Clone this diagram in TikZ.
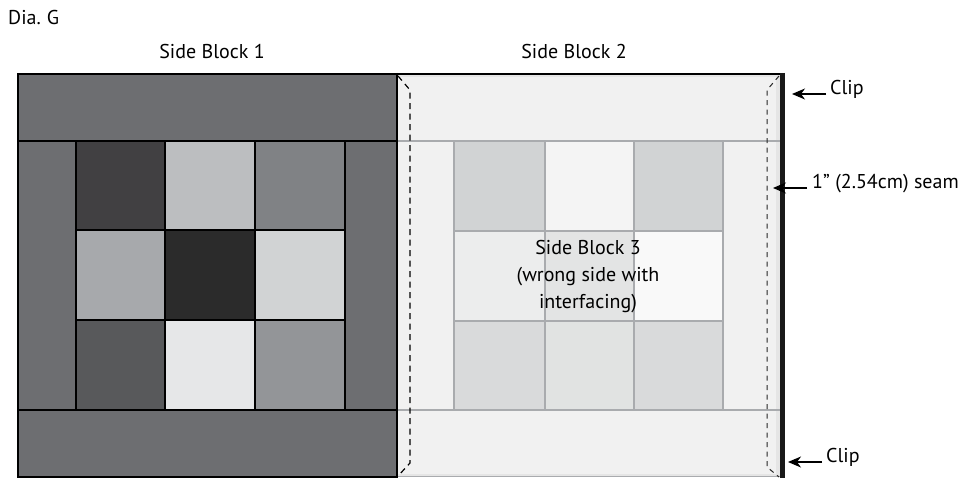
\documentclass[tikz,border=0pt]{standalone}
\usepackage{fontspec}
\setmainfont{PT Sans}
\usetikzlibrary{arrows.meta}
\definecolor{bandD}{HTML}{6D6E71}
\definecolor{bandL}{HTML}{F1F1F1}
\definecolor{gridL}{HTML}{A9ABAE}
\tikzset{
  darkcell/.style={draw=black,line width=1.3pt},
  lightcell/.style={draw=gridL,line width=1.2pt},
  lab/.style={inner sep=0pt,font=\fontsize{20}{24}\selectfont},
  seam/.style={draw=black,line width=1.2pt,dash pattern=on 6pt off 4.5pt},
  seamthin/.style={draw=black!85,line width=1pt,dash pattern=on 5pt off 4.5pt},
  pointer/.style={draw=black,line width=1.1pt,-{Stealth[length=13pt,width=11pt,inset=4pt]}}
}
\begin{document}
\begin{tikzpicture}[x=1pt,y=-1pt]
\useasboundingbox (0,0) rectangle (965,478);
\fill[white] (0,0) rectangle (965,478);
% Block 1
\draw[darkcell,fill=bandD] (18,74) rectangle (397,141);
\draw[darkcell,fill=bandD] (18,410) rectangle (397,477);
\draw[darkcell,fill=bandD] (18,141) rectangle (76,410);
\draw[darkcell,fill=bandD] (345,141) rectangle (397,410);
\foreach \xa/\xb/\ya/\yb/\col in {
 76/165/141/230/414042,165/255/141/230/BCBEC0,255/345/141/230/808285,
 76/165/230/320/A7A9AC,165/255/230/320/2B2B2B,255/345/230/320/D1D3D4,
 76/165/320/410/58595B,165/255/320/410/E6E7E8,255/345/320/410/939598}{
  \definecolor{c}{HTML}{\col}
  \draw[darkcell,fill=c] (\xa,\ya) rectangle (\xb,\yb);
}
% Block 2
\fill[bandL] (397,74) rectangle (782,477);
\fill[black!10] (397,74) rectangle (782,77.5);
\fill[black!10] (776,74) rectangle (782,477);
\fill[black!10] (397,474) rectangle (782,477);
\draw[lightcell] (397,141) -- (782,141);
\draw[lightcell] (397,410) -- (782,410);
\foreach \xa/\xb/\ya/\yb/\col in {
 454/545/141/231/D1D3D4,545/634/141/231/F4F4F4,634/723/141/231/D1D3D4,
 454/545/231/321/ECEDED,545/634/231/321/E3E4E4,634/723/231/321/F9F9F9,
 454/545/321/410/D9DADB,545/634/321/410/E1E3E2,634/723/321/410/D9DADB}{
  \definecolor{c}{HTML}{\col}
  \draw[lightcell,fill=c] (\xa,\ya) rectangle (\xb,\yb);
}
\draw[gridL,line width=1.2pt] (397,476.8) -- (782,476.8);
% Black edges
\draw[black,line width=2.4pt] (397,74) -- (784,74);
\draw[black!90,line width=4.4pt] (782.3,73) -- (782.3,477.5);
\draw[black,line width=1.3pt] (397,73) -- (397,477.5);
% Seam
\draw[seam] (398,76) -- (410,90) -- (410,463) -- (398,476);
\draw[seamthin] (779,76) -- (767,90) -- (767,467) -- (779,477);
% Labels
\node[lab,anchor=west] (dia) at (8,18) {Dia.\hspace{6pt}G};
\node[lab] (sb1) at (212,52) {Side Block 1};
\node[lab] (sb2) at (574,52) {Side Block 2};
\node[lab,align=center,font=\fontsize{20}{27}\selectfont] (sb3) at (588,277) {Side Block 3\\(wrong side with\\interfacing)};
\node[lab,anchor=west] (clipa) at (830,89) {Clip};
\node[lab,anchor=west] (seamlab) at (812,184) {1" (2.54cm) seam};
\node[lab,anchor=west] (clipb) at (826,457) {Clip};
\coordinate (clipaT) at (792,94);
\coordinate (seamT) at (773,188);
\coordinate (clipbT) at (788,462);
\draw[pointer] (clipa.west |- clipaT) ++(-4,0) -- (clipaT);
\draw[pointer] (seamlab.west |- seamT) ++(-5,0) -- (seamT);
\draw[pointer] (clipb.west |- clipbT) ++(-4,0) -- (clipbT);
\end{tikzpicture}
\end{document}
